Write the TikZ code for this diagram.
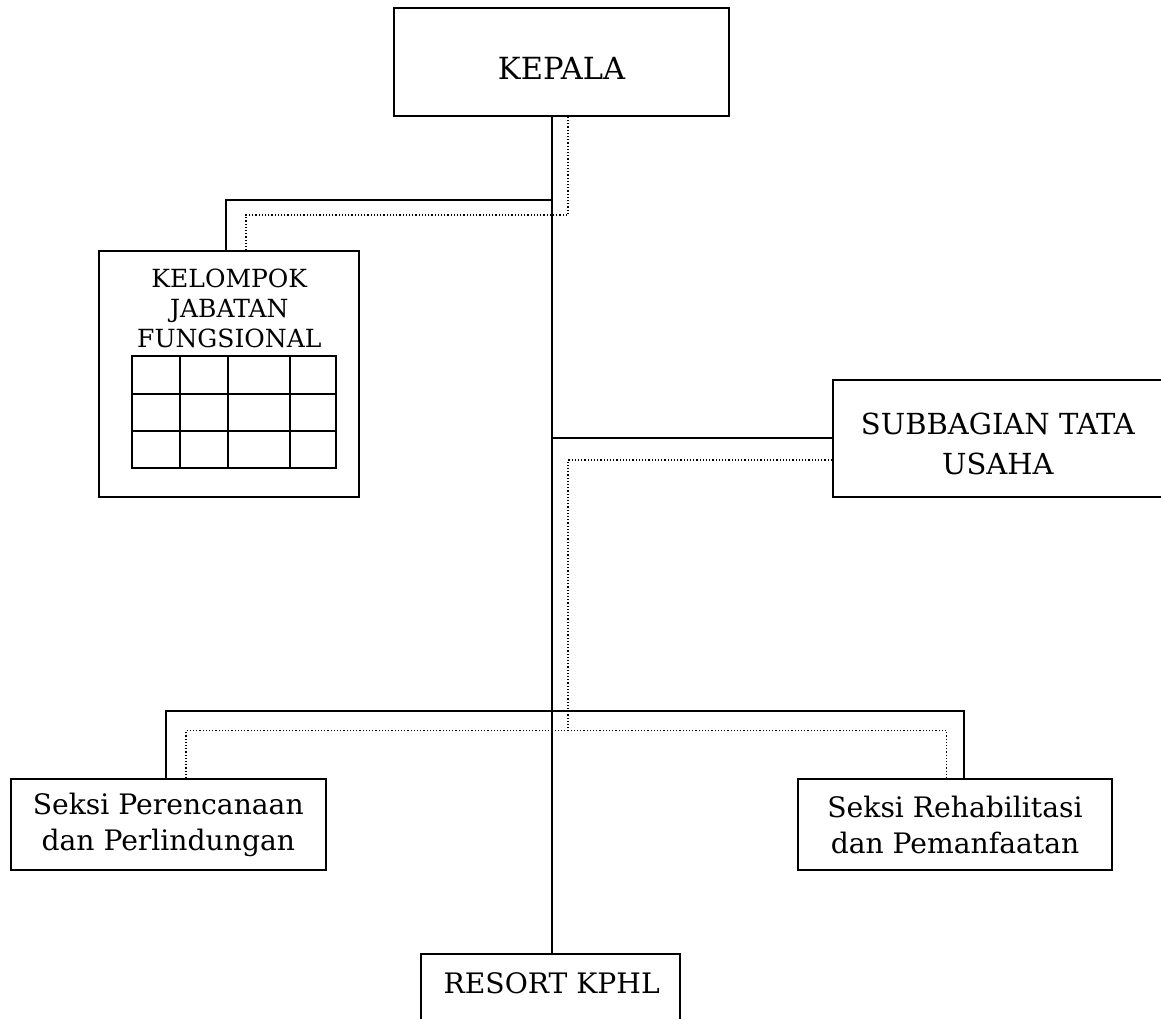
\documentclass[tikz,border=0pt]{standalone}
\usepackage{fontspec}
\setmainfont{DejaVu Serif}
\begin{document}
\begin{tikzpicture}[x=1pt,y=-1pt,
  box/.style={draw, line width=1.8pt, rectangle, inner sep=0pt},
  conn/.style={line width=1.6pt},
  dotline/.style={line width=1.3pt, dash pattern=on 1.2pt off 2pt},
  bigtxt/.style={font=\fontsize{29}{40}\selectfont, align=center, inner sep=0pt},
  kptxt/.style={font=\fontsize{30.5}{40}\selectfont, align=center, inner sep=0pt},
  midtxt/.style={font=\fontsize{28.2}{36}\selectfont, align=center, inner sep=0pt},
  smalltxt/.style={font=\fontsize{25}{30}\selectfont, align=center, inner sep=0pt}]
\useasboundingbox (0,0) rectangle (1161,1019);
\clip (0,0) rectangle (1161,1019);
\fill[white] (0,0) rectangle (1161,1019);

% boxes
\node[box, minimum width=335pt, minimum height=108pt] (kepala) at (561.5,62) {};
\node[kptxt] (kepalaT) at (561.5,68) {KEPALA};

\node[box, minimum width=260pt, minimum height=246pt] (kjf) at (229.3,373.7) {};
\node[smalltxt] (kjfT) at (229.3,308) {KELOMPOK\\JABATAN\\FUNGSIONAL};
\draw[line width=1.6pt] (132,356) rectangle (336,468);
\foreach \gx in {180,228,290} \draw[line width=1.6pt] (\gx,356) -- (\gx,468);
\foreach \gy in {394,431} \draw[line width=1.6pt] (132,\gy) -- (336,\gy);

\node[box, minimum width=330pt, minimum height=117pt] (sub) at (997.9,438.5) {};
\node[bigtxt] (subT) at (997.9,444) {SUBBAGIAN TATA\\USAHA};

\node[box, minimum width=315.3pt, minimum height=91pt] (sp) at (168.3,824.5) {};
\node[midtxt] (spT) at (168.3,825) {Seksi Perencanaan\\dan Perlindungan};

\node[box, minimum width=314pt, minimum height=91pt] (sr) at (955,824.5) {};
\node[midtxt] (srT) at (955,825) {Seksi Rehabilitasi\\dan Pemanfaatan};

\node[box, minimum width=259.3pt, minimum height=100pt] (resort) at (550.4,1004) {};
\node[midtxt] (resortT) at (551.7,983) {RESORT KPHL};

% helper coordinates
\coordinate (sx) at (552,0);
\coordinate (dx) at (568,0);
\coordinate (jk) at (552,200);
\coordinate (js) at (552,438);
\coordinate (jb) at (552,710.7);
\coordinate (dk) at (568,215);
\coordinate (ds) at (568,460);
\coordinate (db) at (568,730.7);
\coordinate (kjfS) at ([xshift=-3.3pt]kjf.north);
\coordinate (kjfD) at ([xshift=16.7pt]kjf.north);
\coordinate (spS) at ([xshift=-2.3pt]sp.north);
\coordinate (spD) at ([xshift=17.7pt]sp.north);
\coordinate (srS) at ([xshift=9pt]sr.north);
\coordinate (srD) at ([xshift=-8.3pt]sr.north);

% solid connectors
\draw[conn] (kepala.south -| sx) -- (resort.north -| sx);
\draw[conn] (jk) -| (kjfS);
\draw[conn] (js) -- (js -| sub.west);
\draw[conn] (spS) |- (jb) -| (srS);

% dotted connectors
\draw[dotline] (kepala.south -| dx) -- (dk) -| (kjfD);
\draw[dotline] (ds -| sub.west) -- (ds) -- (db);
\draw[dotline] (spD) |- (db) -| (srD);
\end{tikzpicture}
\end{document}
